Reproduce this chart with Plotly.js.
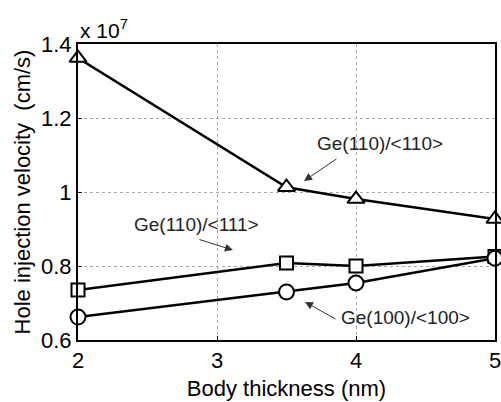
<!DOCTYPE html>
<html>
<head>
<meta charset="utf-8">
<script src="https://cdn.plot.ly/plotly-3.0.1.min.js"></script>
<style>html,body{margin:0;padding:0;background:#fff;}#chart{width:501px;height:402px;}</style>
</head>
<body>
<div id="chart"></div>
<script>
const thickness = [2, 3.5, 4, 5];
const ge110_110 = [1.362, 1.013, 0.981, 0.927];
const ge110_111 = [0.735, 0.808, 0.800, 0.826];
const ge100_100 = [0.662, 0.730, 0.754, 0.821];
const xTicks = [2, 3, 4, 5];
const yTicks = [0.6, 0.8, 1.0, 1.2, 1.4];
const yTickText = ['0.6', '0.8', '1', '1.2', '1.4'];

const lineStyle = {color: '#000', width: 2.5};
function series(y, symbol, size) {
  return {
    x: thickness, y: y, type: 'scatter', mode: 'lines+markers',
    line: lineStyle,
    marker: {symbol: symbol, size: size, color: '#fff', line: {color: '#000', width: 2}},
    showlegend: false, cliponaxis: false
  };
}
const data = [
  series(ge110_110, 'triangle-up', 15),
  series(ge110_111, 'square', 13),
  series(ge100_100, 'circle', 15)
];
const fam = 'Liberation Sans, Arial, sans-serif';
const font = {family: fam, color: '#000'};
const axisCommon = {
  showline: true, linecolor: '#000', linewidth: 2, mirror: true,
  ticks: 'inside', ticklen: 4, tickcolor: '#000', tickwidth: 1,
  showgrid: true, gridcolor: '#a8a8a8', gridwidth: 1, griddash: 'dot',
  zeroline: false, tickfont: {family: fam, color: '#000', size: 22},
  ticklabeloverflow: 'allow'
};
function arrow(x, y, ax, ay) {
  return {x: x, y: y, xref: 'x', yref: 'y', ax: ax, ay: ay, axref: 'pixel', ayref: 'pixel',
    text: '', showarrow: true, arrowhead: 2, arrowsize: 1.6, arrowwidth: 1, arrowcolor: '#333'};
}
function label(x, y, t) {
  return {x: x, y: y, xref: 'x', yref: 'y', text: t, showarrow: false,
    font: {family: fam, color: '#222', size: 19}, xanchor: 'center', yanchor: 'middle'};
}
const layout = {
  width: 501, height: 402,
  margin: {l: 78, r: 6, t: 44, b: 62},
  paper_bgcolor: '#fff', plot_bgcolor: '#fff',
  font: font,
  xaxis: Object.assign({}, axisCommon, {
    range: [2, 5], tickvals: xTicks, ticktext: xTicks.map(String),
    title: {text: 'Body thickness (nm)', font: {family: fam, color: '#000', size: 22}, standoff: 8}
  }),
  yaxis: Object.assign({}, axisCommon, {
    range: [0.6, 1.4], tickvals: yTicks, ticktext: yTickText,
    title: {text: 'Hole injection velocity  (cm/s)', font: {family: fam, color: '#000', size: 22}, standoff: 4}
  }),
  annotations: [
    {x: 0, y: 1, xref: 'paper', yref: 'paper', xanchor: 'left', yanchor: 'bottom', yshift: 0,
     text: 'x 10<sup>7</sup>', showarrow: false, font: {family: fam, color: '#000', size: 21}},
    label(4.173, 1.132, 'Ge(110)/&lt;110&gt;'),
    label(2.856, 0.9135, 'Ge(110)/&lt;111&gt;'),
    label(4.353, 0.662, 'Ge(100)/&lt;100&gt;'),
    arrow(3.626, 1.030, 34, -23),
    arrow(3.115, 0.843, -35, -11),
    arrow(3.633, 0.703, 32, 18)
  ]
};
Plotly.newPlot('chart', data, layout, {staticPlot: true, displayModeBar: false});
</script>
</body>
</html>
